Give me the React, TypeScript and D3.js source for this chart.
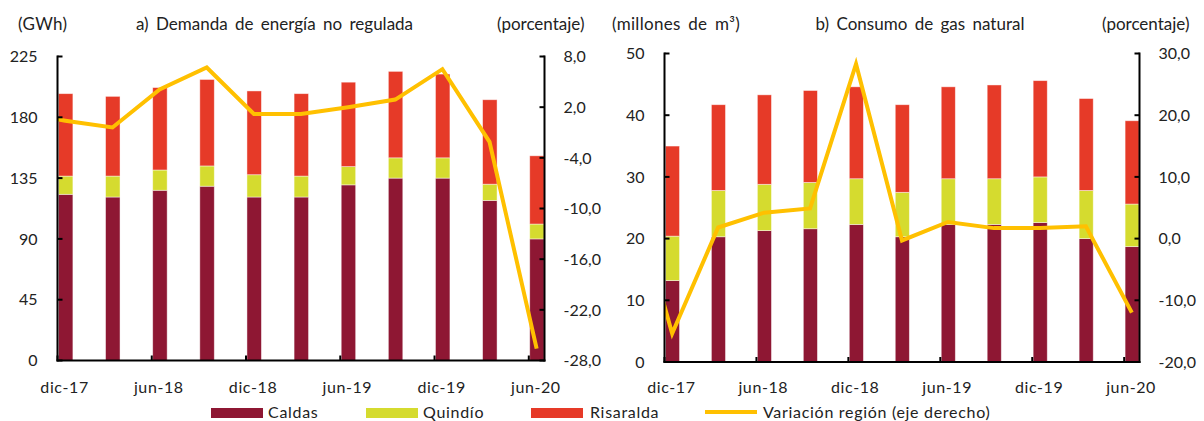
import React from "react";
import * as d3 from "d3";

// Quarterly categories (dic-17 ... jun-20)
const categories = ["dic-17", "mar-18", "jun-18", "sep-18", "dic-18", "mar-19", "jun-19", "sep-19", "dic-19", "mar-20", "jun-20"];
const tickLabels = ["dic-17", "jun-18", "dic-18", "jun-19", "dic-19", "jun-20"];

// a) Demanda de energía no regulada (GWh)
const caldasE = [123, 121, 126, 129, 121, 121, 130, 135, 135, 118.5, 90];
const quindioE = [13.5, 15.5, 15, 15, 16.5, 15.5, 13.5, 15, 15, 12, 11];
const risaraldaE = [61, 59, 61, 64, 62, 61, 62.5, 64, 62, 62.5, 50.5];
// variación región (%), first value = sep-17 (partially outside the plot)
const variacionE = [1.3, 0.4, -0.4, 4.1, 6.7, 1.2, 1.2, 2.0, 2.9, 6.5, -2.1, -26.6];
const leftTicksE = [0, 45, 90, 135, 180, 225];
const rightTicksE = [-28, -22, -16, -10, -4, 2, 8];

// b) Consumo de gas natural (millones de m³)
const caldasG = [13.2, 20.3, 21.3, 21.6, 22.3, 20.3, 22.3, 22.3, 22.6, 20.0, 18.7];
const quindioG = [7.2, 7.5, 7.5, 7.5, 7.4, 7.2, 7.4, 7.4, 7.4, 7.8, 6.9];
const risaraldaG = [14.6, 13.9, 14.5, 14.9, 14.9, 14.2, 14.9, 15.2, 15.6, 14.9, 13.5];
const variacionG = [11.3, -15.4, 1.8, 4.2, 4.9, 28.3, -0.3, 2.7, 1.7, 1.7, 2.0, -12.0];
const leftTicksG = [0, 10, 20, 30, 40, 50];
const rightTicksG = [-20, -10, 0, 10, 20, 30];

const seriesNames = ["Caldas", "Quindío", "Risaralda"];
const colors = ["#8E1733", "#D5DB2F", "#E63A28"];
const lineColor = "#FFC000";
const FONT = "Lato, 'Open Sans', sans-serif";

const fmtComma = (v: number) => d3.format(".1f")(v).replace(".", ",").replace("\u2212", "-");

type PanelProps = {
  id: string;
  x0: number; x1: number; y0: number; y1: number;
  yMax: number; rMin: number; rMax: number;
  leftTicks: number[]; rightTicks: number[];
  caldas: number[]; quindio: number[]; risaralda: number[]; variacion: number[];
  title: string; unit: string; titleX: number; unitX: number; pctX: number;
};

function Panel(p: PanelProps) {
  const x = d3.scaleLinear().domain([0, 31]).range([p.x0, p.x1]);
  const y = d3.scaleLinear().domain([0, p.yMax]).range([p.y0, p.y1]);
  const yr = d3.scaleLinear().domain([p.rMin, p.rMax]).range([p.y0, p.y1]);
  const stack = d3.stack<number>().keys(["0", "1", "2"]).value((i, k) => [p.caldas, p.quindio, p.risaralda][+k][i]);
  const stacked = stack(d3.range(categories.length));
  const line = d3.line<number>()
    .x((_, i) => x(3 * (i - 1) + 0.5))
    .y((v) => yr(v));
  const clipId = "clip-" + p.id;
  return (
    <g>
      <defs>
        <clipPath id={clipId}>
          <rect x={p.x0} y={p.y1 - 10} width={p.x1 - p.x0} height={p.y0 - p.y1 + 12} />
        </clipPath>
      </defs>
      {stacked.map((layer, li) => (
        <g key={li} fill={colors[li]}>
          {layer.map((d, i) => (
            <rect key={i} x={x(3 * i + 0.06)} width={x(3 * i + 0.98) - x(3 * i + 0.06)}
              y={y(d[1])} height={y(d[0]) - y(d[1])}
              stroke="#ffffff" strokeOpacity={0.55} strokeWidth={0.8} />
          ))}
        </g>
      ))}
      <path d={line(p.variacion) || ""} fill="none" stroke={lineColor} strokeWidth={4}
        strokeLinejoin="miter" clipPath={`url(#${clipId})`} />
      {/* axes */}
      <g stroke="#000" strokeWidth={2}>
        <line x1={p.x0} x2={p.x0} y1={p.y1 - 1} y2={p.y0 + 1} />
        <line x1={p.x1} x2={p.x1} y1={p.y1 - 1} y2={p.y0 + 1} />
        <line x1={p.x0 - 1} x2={p.x1 + 1} y1={p.y0} y2={p.y0} />
        {p.leftTicks.map((t) => (
          <line key={"l" + t} x1={p.x0} x2={p.x0 + 5} y1={y(t)} y2={y(t)} />
        ))}
        {p.rightTicks.map((t) => (
          <line key={"r" + t} x1={p.x1 - 5} x2={p.x1} y1={yr(t)} y2={yr(t)} />
        ))}
        {tickLabels.map((_, k) => (
          <line key={"x" + k} x1={x(6 * k)} x2={x(6 * k)} y1={p.y0} y2={p.y0 - 5} />
        ))}
      </g>
      <g fontFamily={FONT} fontSize={16} fill="#222">
        {p.leftTicks.map((t) => (
          <text key={"lt" + t} x={p.x0 - 20} y={y(t)} dy="0.36em" textAnchor="end">{t}</text>
        ))}
        {p.rightTicks.map((t) => (
          <text key={"rt" + t} x={p.x1 + 19} y={yr(t)} dy="0.36em" textAnchor="start">{fmtComma(t)}</text>
        ))}
        {tickLabels.map((lab, k) => (
          <text key={"xt" + k} x={x(6 * k + 0.45)} y={393} textAnchor="middle" letterSpacing={0.6}>{lab}</text>
        ))}
      </g>
      <g fontFamily={FONT} fontSize={17} fill="#222" wordSpacing={3}>
        <text x={p.unitX} y={30} letterSpacing={0.3}>{p.unit}</text>
        <text x={p.titleX} y={30} textAnchor="middle">{p.title}</text>
        <text x={p.pctX} y={30}>(porcentaje)</text>
      </g>
    </g>
  );
}

export default function App() {
  const legendItems = [
    { sx: 211, tx: 268 },
    { sx: 366, tx: 423 },
    { sx: 531, tx: 590 },
  ];
  return (
    <svg width={1204} height={421} style={{ position: "absolute", left: 0, top: 0, background: "#fff" }}>
      <Panel id="a" x0={57.5} x1={544.5} y0={360.5} y1={56.5} yMax={225} rMin={-28} rMax={8}
        leftTicks={leftTicksE} rightTicks={rightTicksE}
        caldas={caldasE} quindio={quindioE} risaralda={risaraldaE} variacion={variacionE}
        title="a) Demanda de energía no regulada" unit="(GWh)" titleX={274.5} unitX={18} pctX={497} />
      <Panel id="b" x0={664.5} x1={1139.5} y0={362} y1={53.5} yMax={50} rMin={-20} rMax={30}
        leftTicks={leftTicksG} rightTicks={rightTicksG}
        caldas={caldasG} quindio={quindioG} risaralda={risaraldaG} variacion={variacionG}
        title="b) Consumo de gas natural" unit="(millones de m³)" titleX={920} unitX={612} pctX={1102} />
      <g fontFamily={FONT} fontSize={16} fill="#222" letterSpacing={0.7}>
        {seriesNames.map((n, i) => (
          <g key={n}>
            <rect x={legendItems[i].sx} y={408} width={52} height={10} fill={colors[i]} />
            <text x={legendItems[i].tx} y={417.5}>{n}</text>
          </g>
        ))}
        <line x1={705} x2={757} y1={412} y2={412} stroke={lineColor} strokeWidth={4} />
        <text x={763} y={417.5}>Variación región (eje derecho)</text>
      </g>
    </svg>
  );
}
